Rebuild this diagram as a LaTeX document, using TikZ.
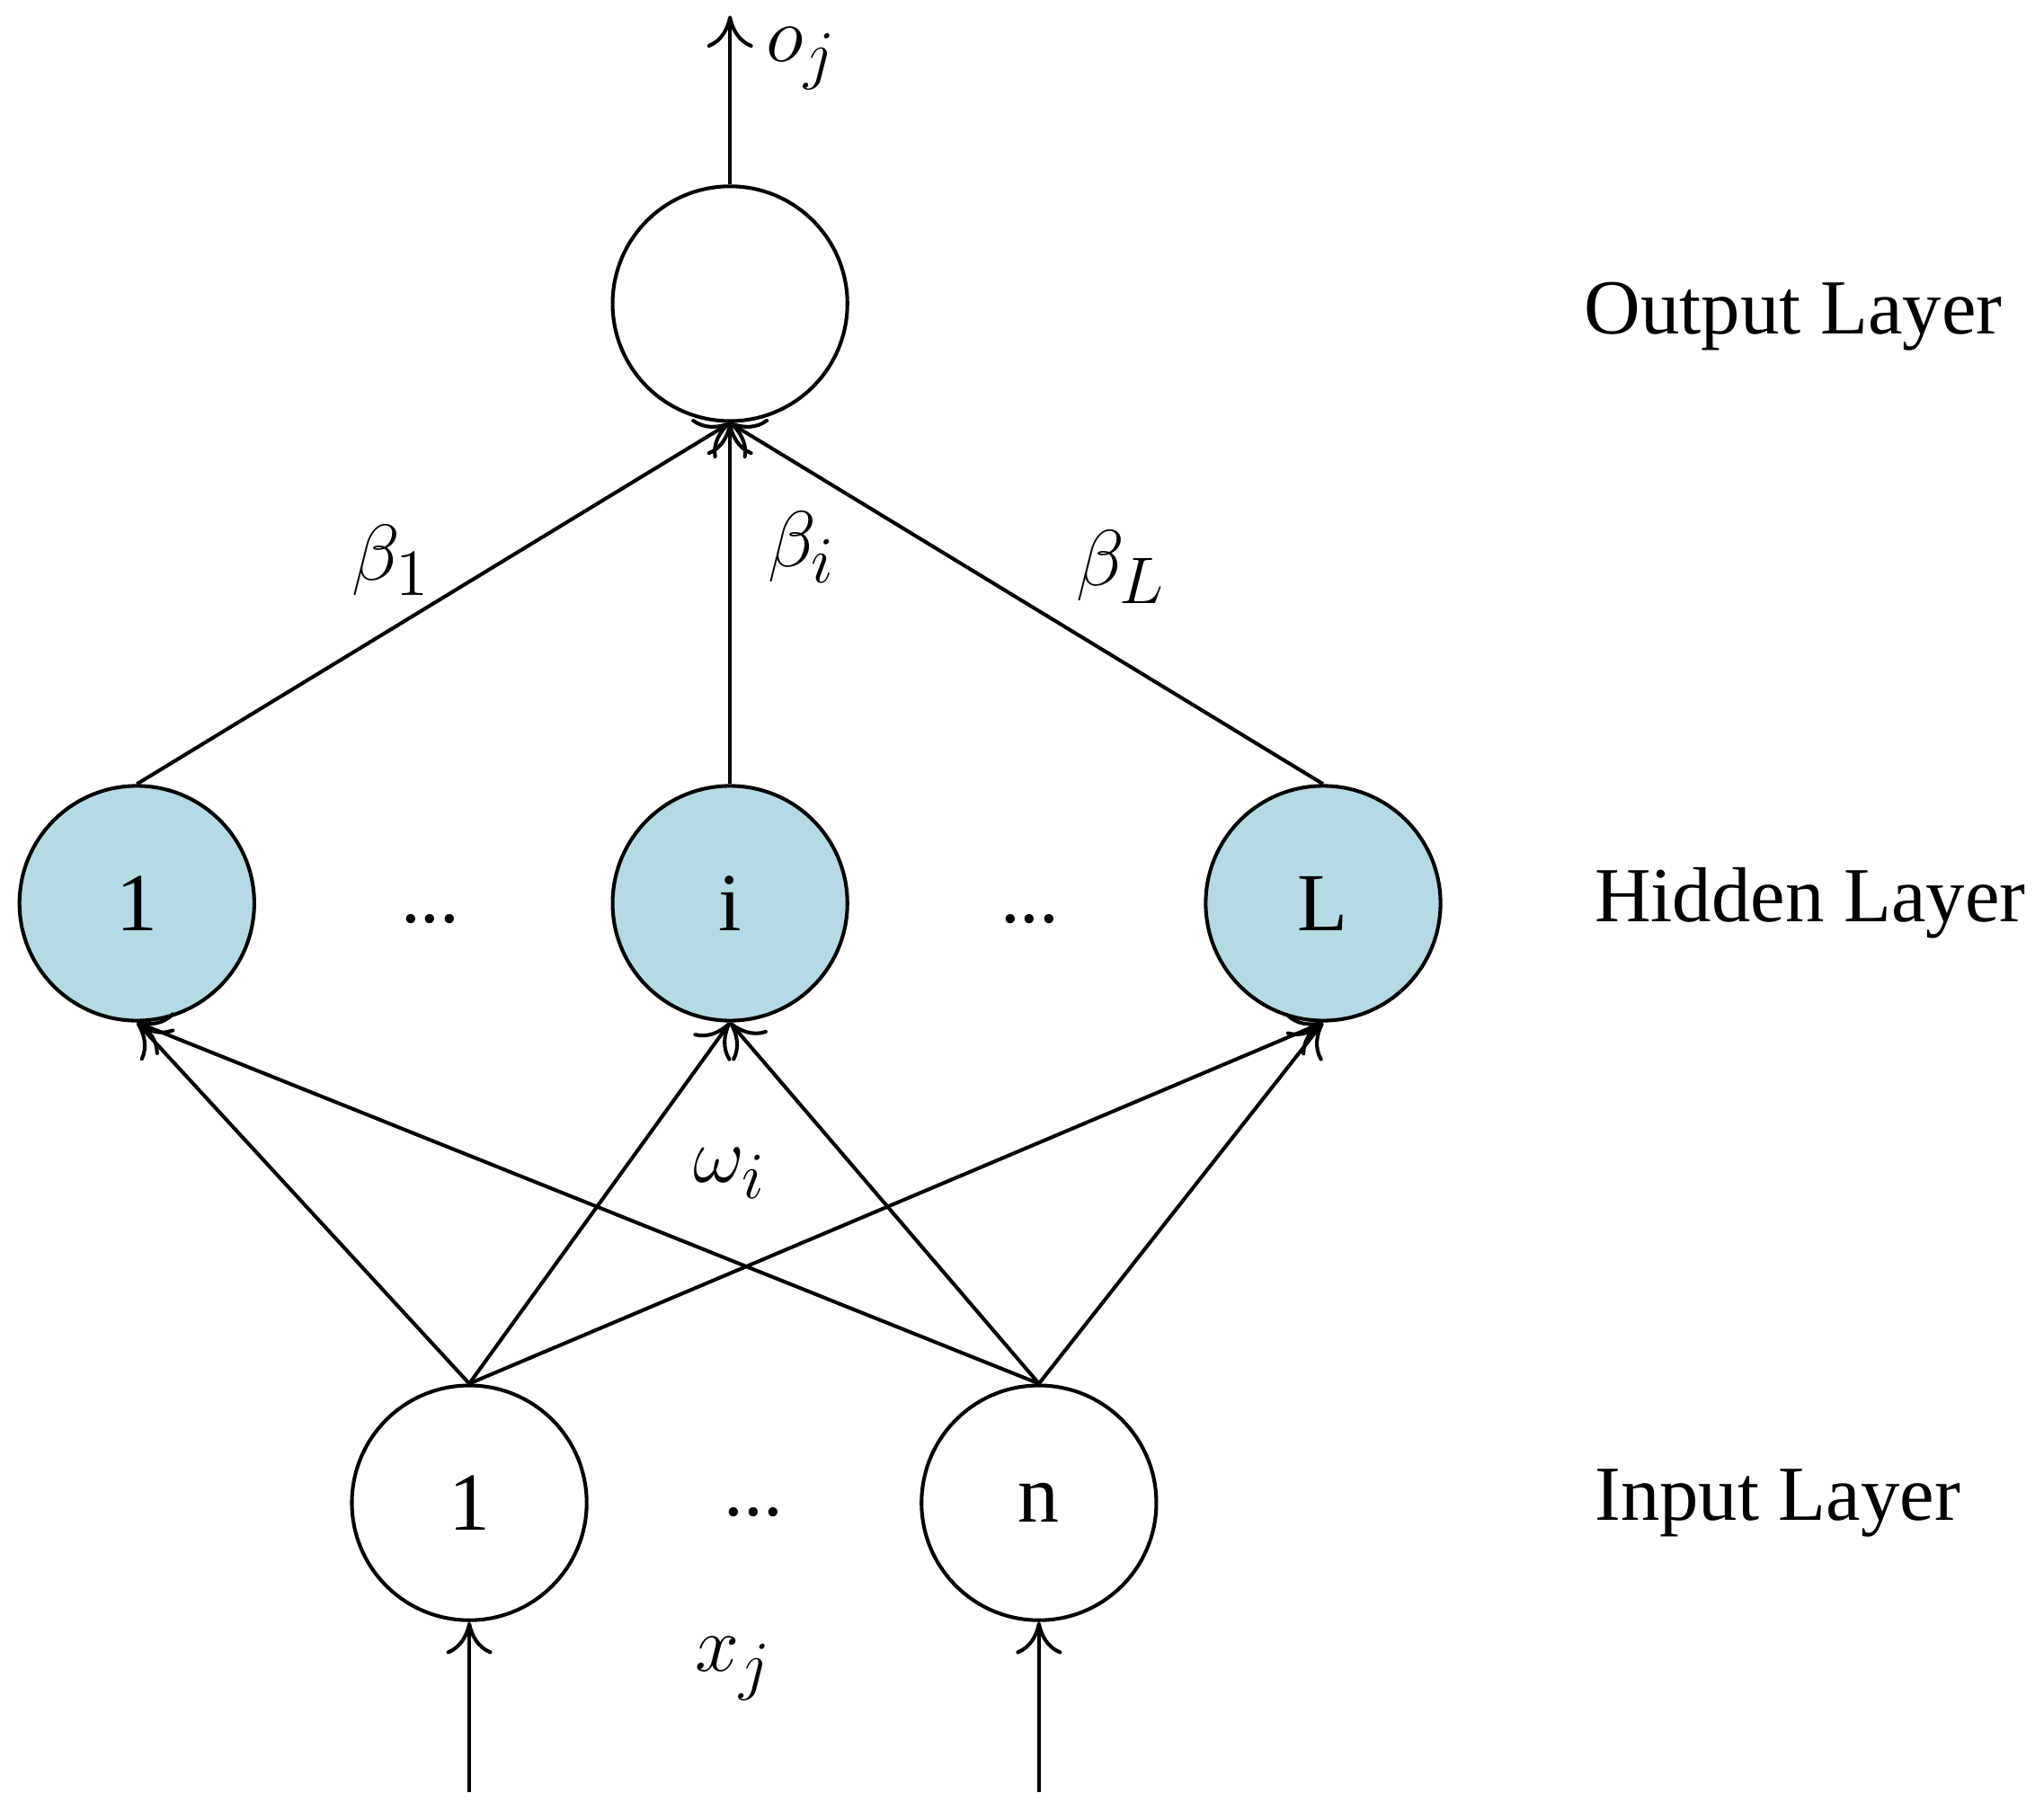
\documentclass[tikz,border=0pt]{standalone}
\usepackage{fontspec}
\setmainfont{Liberation Serif}
\usetikzlibrary{arrows.meta}
\begin{document}
\begin{tikzpicture}[x=0.01cm,y=-0.01cm,
  neuron/.style={circle,draw,line width=0.8pt,minimum size=1.8cm,inner sep=0pt,font=\fontsize{18}{22}\selectfont},
  hid/.style={neuron,fill={rgb,255:red,180;green,218;blue,228}},
  con/.style={-{To[length=7pt,width=10pt]},line width=0.8pt},
  lay/.style={font=\fontsize{17}{21}\selectfont},
  lab/.style={font=\fontsize{19}{23}\selectfont}]
\useasboundingbox (0,0) rectangle (1568,1389);
\node[neuron] (o) at (560,233) {};
\node[hid] (h1) at (105,693) {1};
\node[hid] (hi) at (560,693) {i};
\node[hid] (hL) at (1015,693) {L};
\node[neuron] (x1) at (360,1153) {1};
\node[neuron] (xn) at (797,1153) {n};
\coordinate (otop) at (560,12);
\coordinate (b1) at (360,1375);
\coordinate (bn) at (797,1375);
\draw[con] (o) -- (otop);
\draw[con] (b1) -- (x1);
\draw[con] (bn) -- (xn);
\foreach \h in {h1,hi,hL} {
  \draw[con] (\h.north) -- (o.south);
  \draw[con] (x1.north) -- (\h.south);
  \draw[con] (xn.north) -- (\h.south);
}
\node[lab] at (615,45) {$o_{j}$};
\node[lab] at (300,430) {$\beta_{1}$};
\node[lab] at (615,420) {$\beta_{i}$};
\node[lab] at (860,435) {$\beta_{L}$};
\node[lab] at (560,900) {$\omega_{i}$};
\node[lab] at (563,1280) {$x_{j}$};
\node[lay] at (330,705) {...};
\node[lay] at (790,705) {...};
\node[lay] at (578,1160) {...};
\node[lay,anchor=west] at (1203,243) {Output Layer};
\node[lay,anchor=west] at (1211,693) {Hidden Layer};
\node[lay,anchor=west] at (1211,1153) {Input Layer};
\end{tikzpicture}
\end{document}
